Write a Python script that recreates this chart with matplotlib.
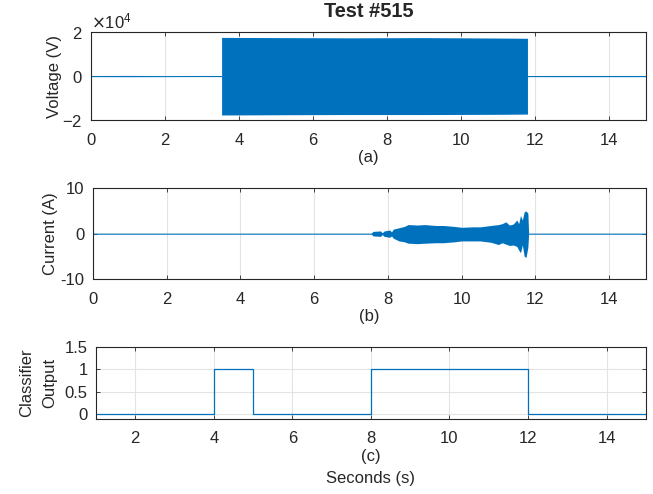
import matplotlib
matplotlib.use('Agg')
import matplotlib.pyplot as plt
import numpy as np

# envelope of voltage signal (V)
v_t = [0, 1.0, 2.0, 3.0, 3.53, 3.53, 5.0, 7.0, 9.0, 11.0, 11.8, 11.8, 13.0, 15.0]
v_hi = [250, 300, 220, 280, 250, 17600, 17500, 17400, 17500, 17300, 17200, 250, 280, 260]
v_lo = [-250, -280, -260, -220, -250, -17700, -17600, -17500, -17500, -17400, -17300, -250, -270, -260]

# envelope of current signal (A)
i_t = [0, 7.55, 7.6, 7.8, 7.85, 7.9, 8.05, 8.1, 8.15, 8.3, 8.45, 8.55, 8.8, 9.0, 9.3, 9.5,
       9.8, 10.0, 10.3, 10.5, 10.8, 11.0, 11.1, 11.2, 11.3, 11.4, 11.5, 11.55, 11.6,
       11.65, 11.7, 11.75, 11.8, 11.82, 15.0]
i_hi = [0.12, 0.12, 0.5, 0.6, 0.2, 0.6, 0.8, 0.4, 1.0, 1.3, 1.6, 2.0, 1.9, 2.0, 1.8, 1.8,
        1.6, 1.4, 1.5, 1.5, 1.8, 2.0, 2.2, 2.6, 1.9, 2.1, 3.0, 2.2, 4.0,
        3.0, 4.8, 5.0, 4.5, 0.12, 0.12]
i_lo = [-0.12, -0.12, -0.5, -0.6, -0.2, -0.6, -0.8, -0.5, -1.0, -1.6, -1.8, -2.1, -2.2, -2.1, -2.0, -2.0,
        -1.8, -1.6, -1.6, -1.6, -1.9, -2.4, -2.0, -2.3, -2.6, -2.5, -2.8, -3.6, -4.2,
        -2.5, -5.0, -5.2, -3.0, -0.12, -0.12]

# classifier output
c_t = [1, 4, 5, 8, 12, 15]
c_y = [0, 1, 0, 1, 0, 0]

blue = '#0072BD'
plt.rcParams['font.family'] = ['Liberation Sans', 'DejaVu Sans']
plt.rcParams['font.size'] = 12
plt.rcParams['axes.unicode_minus'] = False
plt.rcParams['text.color'] = '#262626'
plt.rcParams['axes.labelcolor'] = '#262626'
plt.rcParams['xtick.color'] = '#262626'
plt.rcParams['ytick.color'] = '#262626'

fig = plt.figure(figsize=(6.53, 4.94), dpi=100)
ax1 = fig.add_axes([0.1394, 0.757, 0.8496, 0.178])
ax2 = fig.add_axes([0.1424, 0.435, 0.8466, 0.184])
ax3 = fig.add_axes([0.147, 0.152, 0.842, 0.146])

def style(ax):
    ax.grid(True, color='#e3e3e3', linewidth=0.8)
    ax.set_axisbelow(True)
    ax.tick_params(direction='in', top=True, right=True, length=3, width=0.6)
    ax.tick_params(axis='x', pad=9)
    ax.tick_params(axis='y', pad=6)
    for s in ax.spines.values():
        s.set_color('#262626')
        s.set_linewidth(0.8)

ax1.fill_between(v_t, v_lo, v_hi, color=blue, linewidth=0)
ax1.set_xlim(0, 15)
ax1.set_ylim(-2e4, 2e4)
ax1.set_yticks([-2e4, 0, 2e4])
ax1.set_xticks(range(0, 16, 2))
ax1.ticklabel_format(axis='y', style='sci', scilimits=(0, 0), useMathText=True)
ax1.set_ylabel('Voltage (V)', labelpad=0)
ax1.set_xlabel('(a)', labelpad=2)
ax1.set_title('Test #515', fontweight='bold', pad=11)
style(ax1)

ax2.fill_between(i_t, i_lo, i_hi, color=blue, linewidth=0)
ax2.set_xlim(0, 15)
ax2.set_ylim(-10, 10)
ax2.set_yticks([-10, 0, 10])
ax2.set_xticks(range(0, 16, 2))
ax2.set_ylabel('Current (A)', labelpad=2)
ax2.set_xlabel('(b)', labelpad=2)
style(ax2)

ax3.step(c_t, c_y, where='post', color=blue, linewidth=0.9)
ax3.set_xlim(1, 15)
ax3.set_ylim(-0.1, 1.5)
ax3.set_yticks([0, 0.5, 1, 1.5])
ax3.set_yticklabels(['0', '0.5', '1', '1.5'])
ax3.set_xticks(range(2, 16, 2))
ax3.set_ylabel('Classifier\nOutput', linespacing=1.7, labelpad=5)
ax3.set_xlabel('(c)\nSeconds (s)', labelpad=2, linespacing=1.6)
style(ax3)

fig.savefig('out.png', dpi=100)
